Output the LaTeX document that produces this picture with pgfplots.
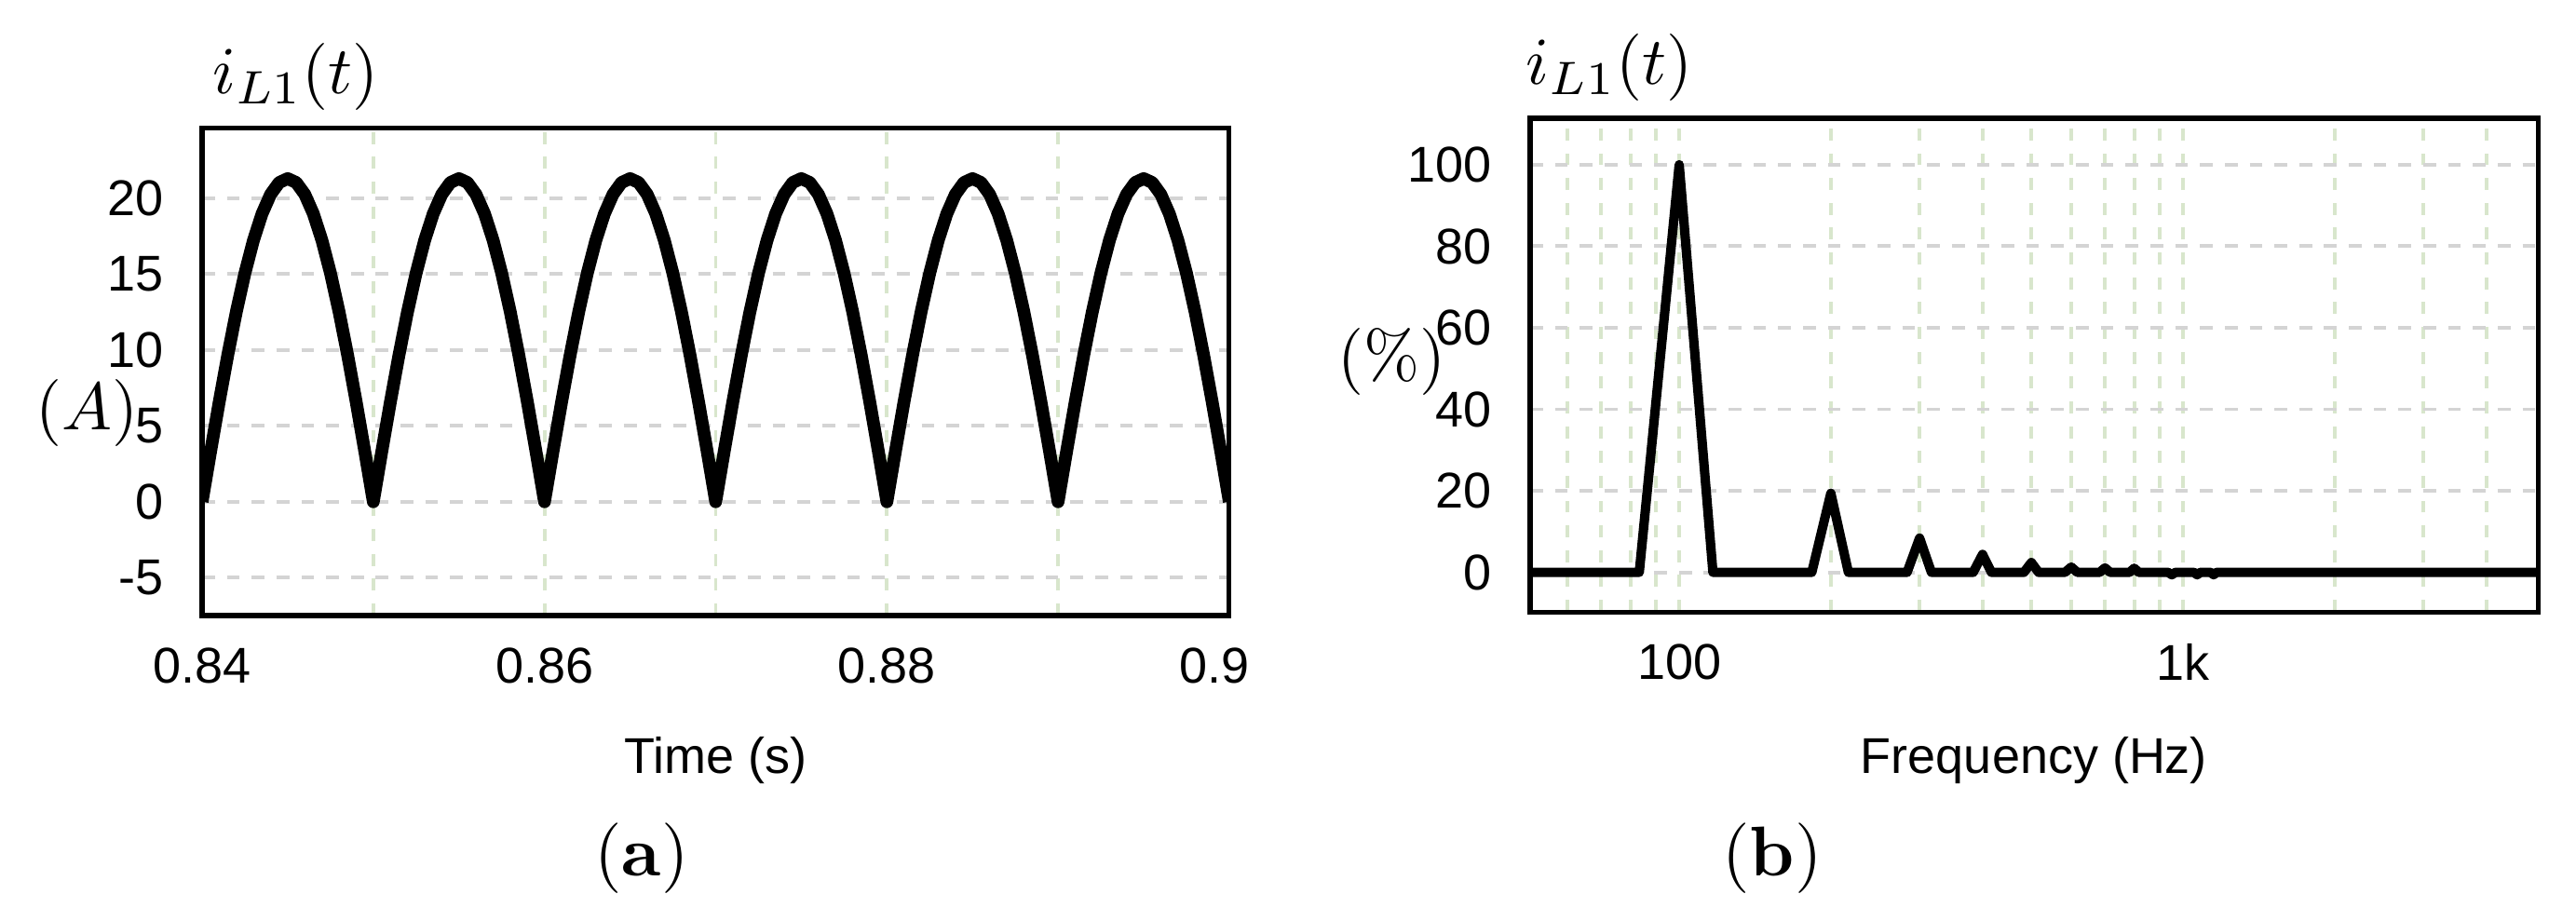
\documentclass[border=0pt]{standalone}
\usepackage{pgfplots}
\pgfplotsset{compat=1.18}
\usepackage{pgfplotstable}
\usepackage{fontspec}
\newfontfamily\tahoma{Liberation Sans}
\definecolor{gridgray}{RGB}{212,212,212}
\definecolor{gridgreen}{RGB}{216,230,204}

\pgfplotstableread{
t i
0.8400 0
0.8405 3.332
0.8410 6.582
0.8415 9.670
0.8420 12.520
0.8425 15.061
0.8430 17.232
0.8435 18.979
0.8440 20.258
0.8445 21.038
0.8450 21.300
0.8455 21.038
0.8460 20.258
0.8465 18.979
0.8470 17.232
0.8475 15.061
0.8480 12.520
0.8485 9.670
0.8490 6.582
0.8495 3.332
0.8500 0
0.8505 3.332
0.8510 6.582
0.8515 9.670
0.8520 12.520
0.8525 15.061
0.8530 17.232
0.8535 18.979
0.8540 20.258
0.8545 21.038
0.8550 21.300
0.8555 21.038
0.8560 20.258
0.8565 18.979
0.8570 17.232
0.8575 15.061
0.8580 12.520
0.8585 9.670
0.8590 6.582
0.8595 3.332
0.8600 0
0.8605 3.332
0.8610 6.582
0.8615 9.670
0.8620 12.520
0.8625 15.061
0.8630 17.232
0.8635 18.979
0.8640 20.258
0.8645 21.038
0.8650 21.300
0.8655 21.038
0.8660 20.258
0.8665 18.979
0.8670 17.232
0.8675 15.061
0.8680 12.520
0.8685 9.670
0.8690 6.582
0.8695 3.332
0.8700 0
0.8705 3.332
0.8710 6.582
0.8715 9.670
0.8720 12.520
0.8725 15.061
0.8730 17.232
0.8735 18.979
0.8740 20.258
0.8745 21.038
0.8750 21.300
0.8755 21.038
0.8760 20.258
0.8765 18.979
0.8770 17.232
0.8775 15.061
0.8780 12.520
0.8785 9.670
0.8790 6.582
0.8795 3.332
0.8800 0
0.8805 3.332
0.8810 6.582
0.8815 9.670
0.8820 12.520
0.8825 15.061
0.8830 17.232
0.8835 18.979
0.8840 20.258
0.8845 21.038
0.8850 21.300
0.8855 21.038
0.8860 20.258
0.8865 18.979
0.8870 17.232
0.8875 15.061
0.8880 12.520
0.8885 9.670
0.8890 6.582
0.8895 3.332
0.8900 0
0.8905 3.332
0.8910 6.582
0.8915 9.670
0.8920 12.520
0.8925 15.061
0.8930 17.232
0.8935 18.979
0.8940 20.258
0.8945 21.038
0.8950 21.300
0.8955 21.038
0.8960 20.258
0.8965 18.979
0.8970 17.232
0.8975 15.061
0.8980 12.520
0.8985 9.670
0.8990 6.582
0.8995 3.332
0.9000 0
}\timedata

\pgfplotstableread{
f p
50 0
83.33 0
100 100
116.67 0
183.33 0
200 19.4
216.67 0
283.33 0
300 8.4
316.67 0
383.33 0
400 4.4
416.67 0
483.33 0
500 2.4
516.67 0
583.33 0
600 1.3
616.67 0
683.33 0
700 1.1
716.67 0
783.33 0
800 1.0
816.67 0
933.33 0
950 -0.6
966.67 0
1050 0
1066.67 -0.6
1083.33 0
1133.33 0
1150 -0.6
1166.67 0
5100 0
}\freqdata

\begin{document}
\begin{tikzpicture}
\useasboundingbox (0,0) rectangle (384.17pt,137.22pt);
\pgfplotsset{
  myaxis/.style={
    scale only axis,
    axis line style={black, line width=0.7pt},
    tick style={draw=none},
    major tick length=0pt, minor tick length=0pt,
    ticklabel style={font=\tahoma\fontsize{7.5}{9}\selectfont, text=black},
    /pgf/number format/assume math mode=true,
    xticklabel style={yshift=-1.25pt},
    yticklabel style={xshift=-2.2pt},
    x grid style={gridgreen, line width=0.55pt, dash pattern=on 1.8pt off 1.9pt},
    y grid style={gridgray, line width=0.55pt, dash pattern=on 1.9pt off 1.8pt},
    every axis x label/.style={at={(axis description cs:0.5,0)}, anchor=base, font=\tahoma\fontsize{7.5}{9}\selectfont, text=black},
  }
}
\begin{axis}[myaxis,
  at={(30.14pt,45.42pt)}, anchor=south west,
  width=153.19pt, height=72.64pt,
  xmin=0.84, xmax=0.9, ymin=-7.5, ymax=24.6,
  xtick={0.84,0.86,0.88}, xticklabels={0.84,0.86,0.88},
  minor xtick={0.85,0.87,0.89},
  extra x ticks={0.9}, extra x tick labels={0.9},
  extra x tick style={grid=none, xticklabel style={xshift=-2.2pt}},
  ytick={-5,0,5,10,15,20}, yticklabels={-5,0,5,10,15,20},
  xmajorgrids, xminorgrids, ymajorgrids,
  xlabel={Time (s)},
  xlabel style={yshift=-23.48pt},
]
\addplot[black, line width=1.9pt, line join=round] table[x=t,y=i]{\timedata};
\end{axis}

\begin{axis}[myaxis,
  at={(228.19pt,45.97pt)}, anchor=south west,
  width=150.28pt, height=73.61pt,
  xmode=log, log basis x=10,
  xmin=50.6, xmax=5060, ymin=-9.7, ymax=111.4,
  xtick={100,1000}, xticklabels={100,1k},
  minor xtick={60,70,80,90,200,300,400,500,600,700,800,900,2000,3000,4000},
  ytick={0,20,40,60,80,100}, yticklabels={0,20,40,60,80,100},
  xmajorgrids, xminorgrids, ymajorgrids,
  xlabel={Frequency (Hz)},
  xlabel style={yshift=-24.03pt},
]
\addplot[black, line width=1.4pt, line join=round] table[x=f,y=p]{\freqdata};
\end{axis}

\node[anchor=base west, inner sep=0pt, font=\fontsize{10}{12}\selectfont] at (31.5pt,123.3pt) {$i_{L1}(t)$};
\node[anchor=base west, inner sep=0pt, font=\fontsize{10}{12}\selectfont] at (227.4pt,124.6pt) {$i_{L1}(t)$};
\node[inner sep=0pt, font=\fontsize{10}{12}\selectfont] at (12.99pt,75.69pt) {$(A)$};
\node[inner sep=0pt, font=\fontsize{10}{12}\selectfont] at (207.5pt,83.33pt) {$(\%)$};
\node[inner sep=0pt, font=\fontsize{10.5}{12}\selectfont] at (95.7pt,9.17pt) {(\textbf{a})};
\node[inner sep=0pt, font=\fontsize{10.5}{12}\selectfont] at (264.3pt,9.17pt) {(\textbf{b})};
\end{tikzpicture}
\end{document}
